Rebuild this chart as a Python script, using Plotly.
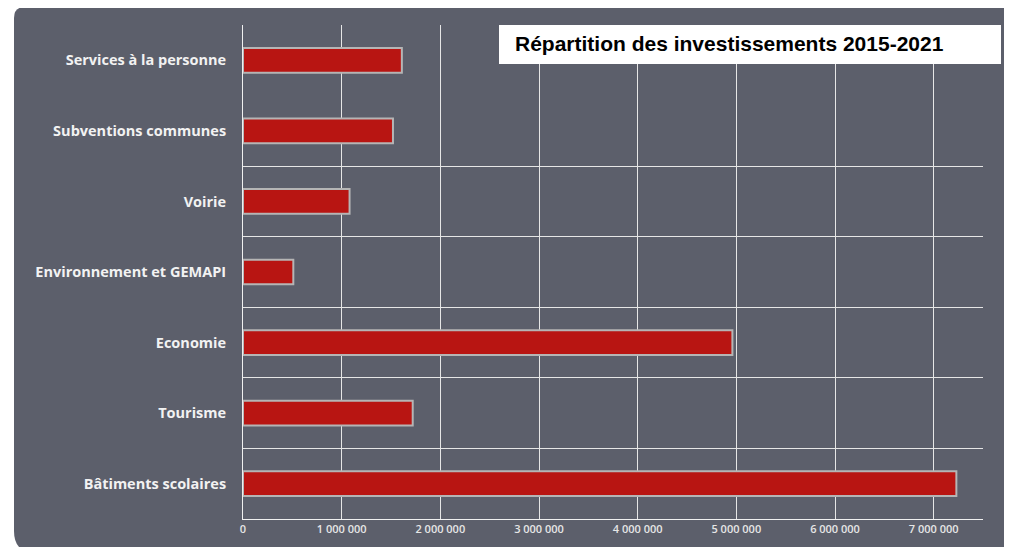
import plotly.graph_objects as go

# data, bottom to top as drawn
categories = ["Bâtiments scolaires", "Tourisme", "Economie", "Environnement et GEMAPI",
              "Voirie", "Subventions communes", "Services à la personne"]
montants = [7230000, 1720000, 4960000, 510000, 1080000, 1520000, 1610000]
tick_vals = [0, 1000000, 2000000, 3000000, 4000000, 5000000, 6000000, 7000000]
tick_text = ["0", "1 000 000", "2 000 000", "3 000 000", "4 000 000",
             "5 000 000", "6 000 000", "7 000 000"]
titre = "Répartition des investissements 2015-2021"

# the page body adds an 8px margin, so work in shifted pixels
OFF = 8
W, H = 1012 - OFF, 547 - OFF
L, R, T, B = 243 - OFF, 29, 25 - OFF, 28
pw, ph = W - L - R, H - T - B

def px_x(v):
    return (v - OFF - L) / pw

def px_y(v):
    return (H - B - (v - OFF)) / ph

panel = "#5c5f6b"
pos = list(range(len(categories)))

fig = go.Figure()
fig.add_trace(go.Bar(
    y=pos, x=montants, orientation="h",
    marker=dict(color="#b81512", line=dict(color="#b5b5b5", width=2)),
    customdata=categories, hovertemplate="%{customdata}: %{x}<extra></extra>",
))

# rounded dark panel behind the chart
x0, x1 = px_x(14), px_x(1040)
y0, y1 = px_y(553), px_y(7)
rtx, rty = 11 / pw, 11 / ph
rbx, rby = 22 / pw, 22 / ph
path = (f"M {x0 + rtx},{y1} L {x1},{y1} L {x1},{y0} L {x0 + rbx},{y0} "
        f"Q {x0},{y0} {x0},{y0 + rby} L {x0},{y1 - rty} Q {x0},{y1} {x0 + rtx},{y1} Z")

shapes = [
    dict(type="path", path=path, xref="paper", yref="paper",
         fillcolor=panel, line=dict(width=0), layer="below"),
    dict(type="rect", xref="paper", yref="paper",
         x0=px_x(499), x1=px_x(1001), y0=px_y(64), y1=px_y(25),
         fillcolor="white", line=dict(width=0), layer="above"),
]

fig.update_layout(
    width=W, height=H,
    margin=dict(l=L, r=R, t=T, b=B),
    paper_bgcolor="white",
    plot_bgcolor="rgba(0,0,0,0)",
    showlegend=False,
    bargap=0.65,
    shapes=shapes,
    annotations=[dict(
        text=f"<b>{titre}</b>", xref="paper", yref="paper",
        x=px_x(513), y=px_y(44), xanchor="left", yanchor="middle",
        showarrow=False, font=dict(family="Liberation Sans, Arial", size=21, color="black"),
    )],
    xaxis=dict(
        range=[0, 7500000], tickvals=tick_vals, ticktext=tick_text,
        showgrid=True, gridcolor="#e6e6e6", gridwidth=1,
        showline=True, linecolor="#f0f0f0", linewidth=1,
        zeroline=False, ticks="",
        tickfont=dict(family="Open Sans", size=11, color="#e6e6e6", weight=600),
    ),
    yaxis=dict(
        range=[-0.5, len(categories) - 0.5],
        tickvals=pos, ticktext=categories,
        showgrid=False, zeroline=False,
        minor=dict(tickvals=[0.5, 1.5, 2.5, 3.5, 4.5], showgrid=True,
                   gridcolor="#e6e6e6", gridwidth=1, ticks=""),
        showline=True, linecolor="#f0f0f0", linewidth=1, ticks="",
        ticklabelstandoff=13,
        tickfont=dict(family="Open Sans", size=14.5, color="#f2f2f2", weight="bold"),
    ),
)

fig.write_html("out.html")
